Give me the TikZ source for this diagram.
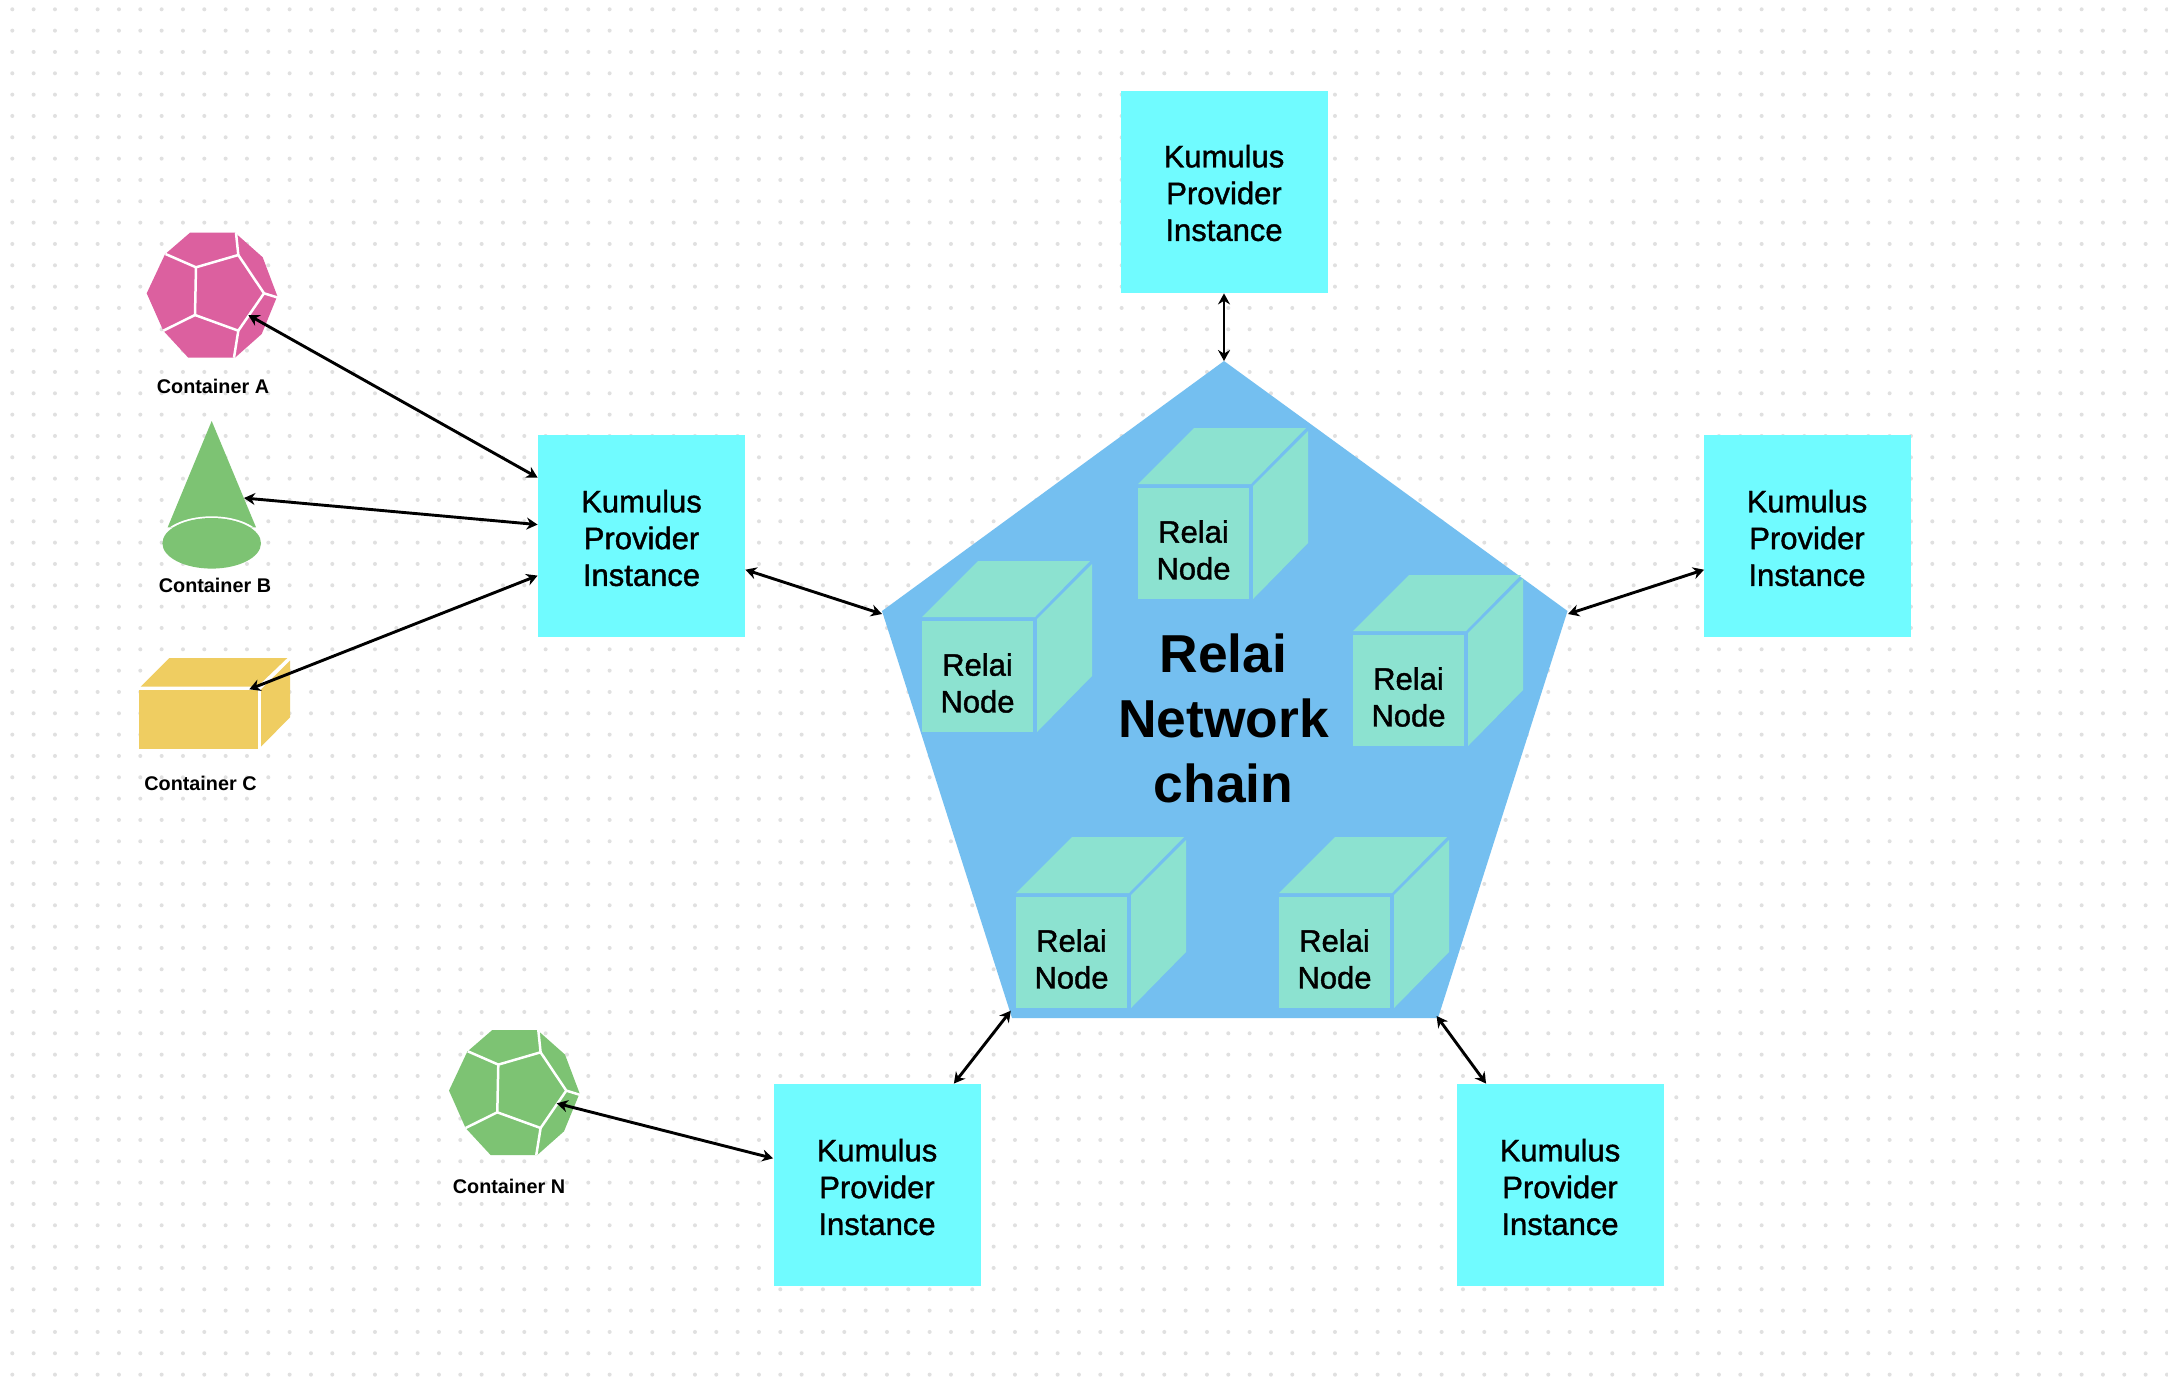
\documentclass[tikz,border=0pt]{standalone}
\usepackage{fontspec}
\setmainfont{Liberation Sans}
\newfontfamily\medf[FakeBold=1.3]{Liberation Sans}
\usetikzlibrary{arrows.meta,calc}
\definecolor{cdot}{HTML}{E0E0E0}
\definecolor{cpink}{HTML}{DC609F}
\definecolor{cgreen}{HTML}{7DC373}
\definecolor{cyellow}{HTML}{EFCD61}
\definecolor{ccyan}{HTML}{70FBFF}
\definecolor{cblue}{HTML}{74BFF0}
\definecolor{cteal}{HTML}{8CE2D0}
\tikzset{
  x=0.5pt,y=-0.5pt,
  kbox/.style={fill=ccyan,minimum width=103.5pt,minimum height=101pt,inner sep=0pt},
  nodetext/.style={inner sep=0pt,align=center,font=\medf\fontsize{15.5}{18.4}\selectfont},
  titletext/.style={inner sep=0pt,align=center,font=\bfseries\fontsize{26.7}{32.5}\selectfont},
  caplabel/.style={inner sep=0pt,font=\bfseries\fontsize{9.9}{12}\selectfont},
  conn/.style={draw=black,line width=1.45pt,{Stealth[length=5.5pt,width=6pt,inset=1.8pt]}-{Stealth[length=5.5pt,width=6pt,inset=1.8pt]}},
  facet/.style={draw=white,line width=1.25pt},
}
% relay-node cube: #1 = name, #2,#3 = top-left corner of front face
\newcommand{\relaycube}[3]{%
  \begin{scope}[shift={(#2,#3)}]
    \fill[cteal] (0,0) rectangle (111,111);
    \fill[cteal] (0,-4) -- (56,-60) -- (168,-60) -- (113,-4) -- cycle;
    \fill[cteal] (115,-2) -- (170,-57) -- (170,55) -- (115,111) -- cycle;
    \node[nodetext] (#1) at (55.5,62) {Relai\\Node};
  \end{scope}}
% provider instance: #1 = name, #2,#3 = centre, #4 = text offset
\newcommand{\provider}[4]{%
  \node[kbox] (#1) at (#2,#3) {};
  \node[nodetext] (#1t) at ($(#1)+(0,#4)$) {Kumulus\\Provider\\Instance};}
% dodecahedron, in the coordinates of container A
\newcommand{\dodeca}[1]{%
  \fill[#1] (190,232.7) -- (235,232.7) -- (262.7,257.3) -- (277.3,296) -- (261.7,334) -- (235,357.7)
    -- (188.3,357.7) -- (163.3,330.7) -- (146.7,293.3) -- (165,254.3) -- cycle;
  \draw[facet,line join=round] (196,267.3) -- (238.3,255) -- (264,293.3) -- (238.3,330.7) -- (195,315) -- cycle;
  \draw[facet] (196,267.3) -- (165.5,254);
  \draw[facet] (238.3,255) -- (236,232.7);
  \draw[facet] (264,293.3) -- (277.5,297.5);
  \draw[facet] (238.3,330.7) -- (234,357.7);
  \draw[facet] (195,315) -- (163.3,330.7);}
\begin{document}
\begin{tikzpicture}
\useasboundingbox (0,0) rectangle (2168,1392);
\fill[white] (0,0) rectangle (2168,1392);
% dotted canvas
\foreach \i in {0,...,101} { \foreach \j in {0,...,65} {
   \fill[cdot] ({12.3+21.333*\i},{9.3+21.333*\j}) circle[radius=2];
}}
% containers
\dodeca{cpink}
\begin{scope}[shift={(302.3,797.3)}]
  \dodeca{cgreen}
\end{scope}
\fill[cgreen] (211.7,421) -- (256,527.3) -- (167.7,527.3) -- cycle;
\begin{scope}
  \clip (211.7,421) -- (256,527.3) -- (167.7,527.3) -- cycle;
  \fill[white] (211.7,543.3) ellipse[x radius=52,y radius=27];
\end{scope}
\fill[cgreen] (211.7,543.3) ellipse[x radius=49.3,y radius=25.3];
\fill[cyellow] (139,690) rectangle (258,748.7);
\fill[cyellow] (140.7,686.7) -- (169.3,658) -- (287.3,658) -- (257.3,686.7) -- cycle;
\fill[cyellow] (261,689.3) -- (290,660.7) -- (290,717.3) -- (261,746.7) -- cycle;
\node[caplabel] (la) at (213,386) {Container A};
\node[caplabel] (lb) at (215,585) {Container B};
\node[caplabel] (lc) at (200.5,783) {Container C};
\node[caplabel] (ln) at (509,1186) {Container N};
% pentagon
\coordinate (pa) at (1224,361);
\coordinate (pr) at (1567.5,611);
\coordinate (pbr) at (1438,1018);
\coordinate (pbl) at (1012,1018);
\coordinate (pl) at (882,611);
\fill[cblue] (pa) -- (pr) -- (pbr) -- (pbl) -- (pl) -- cycle;
\relaycube{n1}{922}{621}
\relaycube{n2}{1138}{488}
\relaycube{n3}{1353}{635}
\relaycube{n4}{1016}{897}
\relaycube{n5}{1279}{897}
\node[titletext] (title) at (1223.5,718) {Relai\\Network\\chain};
% provider instances
\provider{k1}{1224}{192}{1}
\provider{k2}{641.5}{536}{2}
\provider{k3}{1807}{536}{2}
\provider{k4}{877}{1185}{2}
\provider{k5}{1560}{1185}{2}
% connector end points inside the containers
\coordinate (ca) at (248.3,315);
\coordinate (cb) at (244,498);
\coordinate (cc) at (249.3,689.3);
\coordinate (cn) at (556.7,1103.3);
\coordinate (pl2) at (882,614);
\coordinate (pr2) at (1568,614);
\coordinate (pbl2) at (1010.8,1010.7);
\coordinate (pbr2) at (1436.6,1016);
% connectors
\draw[conn] (k1.south) -- (pa);
\draw[conn] ($(k2.east)+(0,33.7)$) -- (pl2);
\draw[conn] ($(k3.west)+(1,33.7)$) -- (pr2);
\draw[conn] (pbl2) -- ($(k4.north east)+(-27,0)$);
\draw[conn] (pbr2) -- ($(k5.north west)+(30,0)$);
\draw[conn] (ca) -- ($(k2.north west)+(0,43)$);
\draw[conn] (cb) -- ($(k2.north west)+(0,90)$);
\draw[conn] (cc) -- ($(k2.north west)+(0,141)$);
\draw[conn] (cn) -- ($(k4.north west)+(0,74.7)$);
\end{tikzpicture}
\end{document}
